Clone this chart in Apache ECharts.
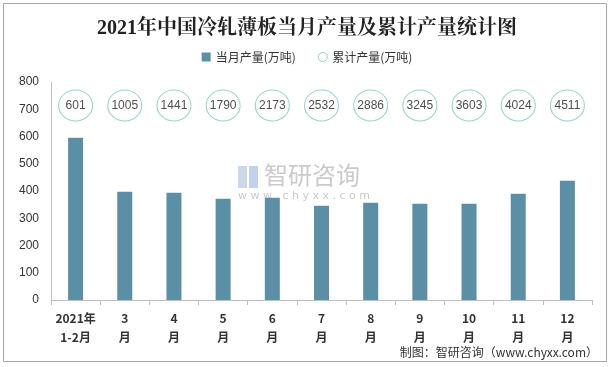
<!DOCTYPE html>
<html><head><meta charset="utf-8">
<script src="https://cdn.jsdelivr.net/npm/echarts@6/dist/echarts.min.js"></script>
<style>html,body{margin:0;padding:0;background:#fff}#c{width:614px;height:367px}</style>
</head><body><div id="c"></div>
<script>
const categories = ['2021年\n1-2月','3\n月','4\n月','5\n月','6\n月','7\n月','8\n月','9\n月','10\n月','11\n月','12\n月'];
const monthly = [595, 397, 394, 372, 375, 346, 357, 353, 353, 390, 438];
const cumulative = [601, 1005, 1441, 1790, 2173, 2532, 2886, 3245, 3603, 4024, 4511];
const yTicks = [0, 100, 200, 300, 400, 500, 600, 700, 800];
const circleRow = 714;

const chart = echarts.init(document.getElementById('c'), null, {renderer: 'canvas'});
chart.setOption({
  animation: false,
  backgroundColor: '#fff',
  title: {
    text: '2021年中国冷轧薄板当月产量及累计产量统计图',
    left: 'center', top: 14,
    textStyle: {fontFamily: '"Liberation Serif","Noto Serif CJK SC","Noto Sans CJK SC",serif', fontSize: 20, fontWeight: 'bold', color: '#222'}
  },
  legend: {
    top: 46, left: 'center', itemGap: 22, itemWidth: 9, itemHeight: 9,
    textStyle: {fontFamily: '"Noto Sans CJK SC",sans-serif', fontSize: 12, color: '#333'},
    data: [
      {name: '当月产量(万吨)', icon: 'rect'},
      {name: '累计产量(万吨)', icon: 'circle', itemStyle: {color: '#fff', borderColor: '#79c9c0', borderWidth: 1}}
    ]
  },
  grid: {left: 51, right: 22, top: 82, bottom: 67},
  xAxis: {
    type: 'category', data: categories, boundaryGap: true,
    axisLine: {lineStyle: {color: '#bfbfbf'}},
    axisTick: {show: true, length: 5, lineStyle: {color: '#bfbfbf'}, alignWithLabel: false},
    axisLabel: {interval: 0, margin: 9, fontSize: 12, fontWeight: 'bold', color: '#333', lineHeight: 19, fontFamily: '"Noto Sans CJK SC",sans-serif'}
  },
  yAxis: {
    type: 'value', min: yTicks[0], max: yTicks[yTicks.length-1], interval: 100,
    axisLine: {show: true, lineStyle: {color: '#bfbfbf'}},
    axisTick: {show: false},
    splitLine: {show: false},
    axisLabel: {fontSize: 12, color: '#333', margin: 12, fontFamily: '"Liberation Sans",sans-serif'}
  },
  series: [
    {
      name: '当月产量(万吨)', type: 'bar', data: monthly, barWidth: 15,
      itemStyle: {color: '#5b8fa6'}
    },
    {
      name: '累计产量(万吨)', type: 'scatter',
      data: cumulative.map((v, i) => [i, circleRow, v]),
      encode: {x: 0, y: 1},
      symbol: 'circle', symbolSize: [34, 31],
      itemStyle: {color: '#fff', borderColor: '#79c9c0', borderWidth: 1},
      label: {show: true, position: 'inside', formatter: p => p.value[2], fontSize: 12, color: '#222', fontFamily: '"Liberation Sans",sans-serif'},
      z: 3
    }
  ],
  graphic: [
    {type: 'rect', shape: {x: 3.5, y: 3.5, width: 603, height: 358}, style: {fill: 'none', stroke: '#a6a6a6', lineWidth: 1}, silent: true, z: -1},
    {type: 'rect', shape: {x: 238, y: 166, width: 9, height: 22}, style: {fill: 'rgba(170,190,220,0.6)'}, z: 0},
    {type: 'rect', shape: {x: 249, y: 166, width: 9, height: 22}, style: {fill: 'rgba(150,180,225,0.6)'}, z: 0},
    {type: 'text', left: 264, top: 163, style: {text: '智研咨询', fontSize: 24, fill: 'rgba(150,150,150,0.5)', fontFamily: '"Noto Sans CJK SC",sans-serif'}, z: 0},
    {type: 'text', left: 238, top: 191, style: {text: 'w w w . c h y x x . c o m', fontSize: 11, fill: 'rgba(150,150,150,0.5)', fontFamily: '"DejaVu Sans",sans-serif'}, z: 0},
    {type: 'text', right: 16, top: 346, style: {text: '制图：智研咨询（www.chyxx.com）', fontSize: 12, fill: '#333', fontFamily: '"Noto Sans CJK SC",sans-serif'}}
  ]
});
</script></body></html>
